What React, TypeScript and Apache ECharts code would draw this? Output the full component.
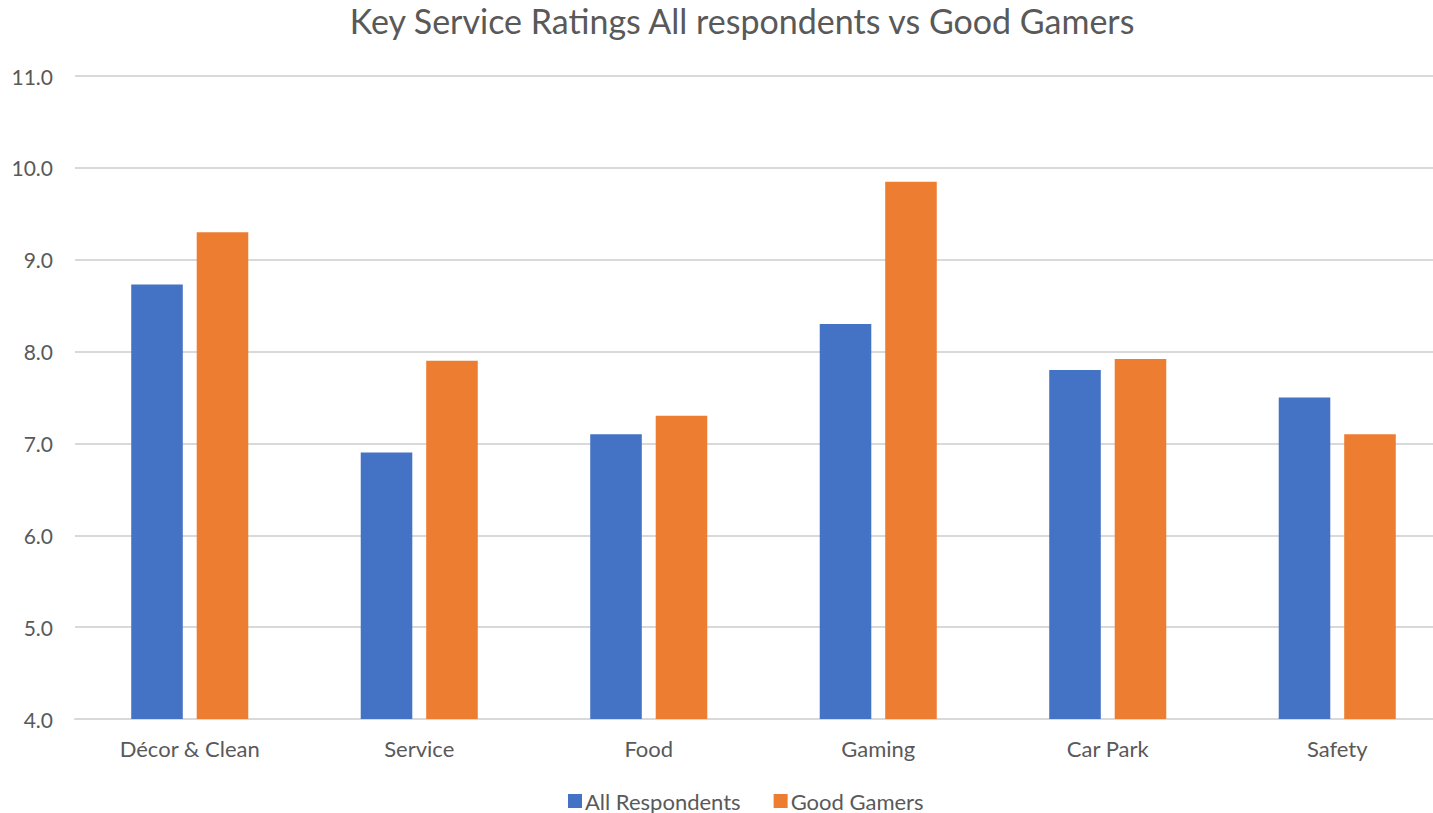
import React, { useEffect, useRef } from "react";
import * as echarts from "echarts";

const categories = ["Décor & Clean", "Service", "Food", "Gaming", "Car Park", "Safety"];
const allRespondents = [8.73, 6.9, 7.1, 8.3, 7.8, 7.5];
const goodGamers = [9.3, 7.9, 7.3, 9.85, 7.92, 7.1];

export default function App() {
  const ref = useRef<HTMLDivElement>(null);
  useEffect(() => {
    const chart = echarts.init(ref.current!, null, { renderer: "svg" });
    const font = "Lato, 'Open Sans', sans-serif";
    chart.setOption({
      animation: false,
      textStyle: { fontFamily: font },
      title: {
        text: "Key Service Ratings All respondents vs Good Gamers",
        left: 737,
        textAlign: "center",
        top: -2,
        textStyle: { fontFamily: font, fontSize: 34, fontWeight: "normal", color: "#595959" },
      },
      legend: {
        bottom: -4,
        left: 563,
        itemWidth: 14,
        itemHeight: 14,
        itemGap: 33,
        icon: "rect",
        textStyle: { fontFamily: font, fontSize: 22, color: "#595959", padding: [0, 0, 0, -2] },
        data: ["All Respondents", "Good Gamers"],
      },
      grid: { left: 75, right: 0, top: 76, bottom: 94, containLabel: false },
      xAxis: {
        type: "category",
        data: categories,
        axisLine: { lineStyle: { color: "#d9d9d9", width: 2 } },
        axisTick: { show: false },
        axisLabel: { fontFamily: font, fontSize: 22, color: "#595959", margin: 18 },
      },
      yAxis: {
        type: "value",
        min: 4,
        max: 11,
        interval: 1,
        axisLine: { show: false },
        axisTick: { show: false },
        splitLine: { lineStyle: { color: "#d9d9d9", width: 2 } },
        axisLabel: {
          fontFamily: font,
          fontSize: 21,
          color: "#595959",
          margin: 22,
          formatter: (v: number) => v.toFixed(1),
        },
      },
      series: [
        {
          name: "All Respondents",
          type: "bar",
          data: allRespondents,
          itemStyle: { color: "#4472C4" },
          barGap: "27%",
          barCategoryGap: "49%",
        },
        {
          name: "Good Gamers",
          type: "bar",
          data: goodGamers,
          itemStyle: { color: "#ED7D31" },
        },
      ],
    });
    return () => chart.dispose();
  }, []);
  return (
    <div
      style={{ position: "fixed", left: 0, top: 0, width: 1433, height: 813, overflow: "hidden", background: "#fff" }}
    >
      <div ref={ref} style={{ width: 1452, height: 813 }} />
    </div>
  );
}
